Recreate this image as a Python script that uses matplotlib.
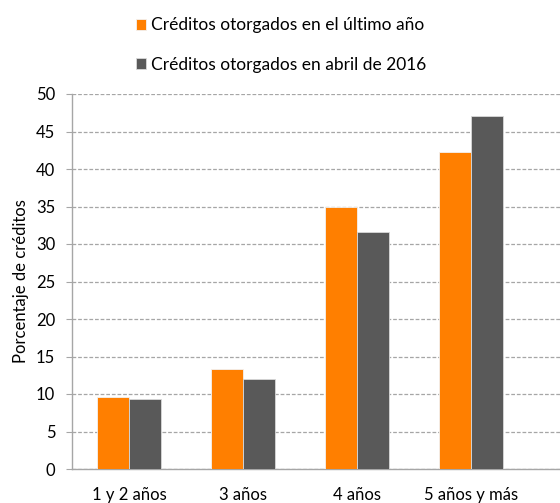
import numpy as np
import matplotlib.pyplot as plt

plt.rcParams['font.family'] = ['Lato', 'DejaVu Sans']

categories = ['1 y 2 años', '3 años', '4 años', '5 años y más']
ultimo_anio = [9.6, 13.3, 34.9, 42.3]
abril_2016 = [9.3, 12.0, 31.6, 47.1]
serie_labels = ['Créditos otorgados en el último año', 'Créditos otorgados en abril de 2016']

orange = '#FF7F00'
gray = '#595959'

fig = plt.figure(figsize=(5.6, 5.03), dpi=100)
ax = fig.add_axes([72/560, 1 - 469/503, 1 - 72/560, (469 - 94)/503])

x = np.arange(len(categories))
w = 0.28
b1 = ax.bar(x - w/2, ultimo_anio, w, color=orange, edgecolor='#f2f2f2', linewidth=0.6,
            label=serie_labels[0], zorder=3)
b2 = ax.bar(x + w/2, abril_2016, w, color=gray, edgecolor='#d9d9d9', linewidth=0.6,
            label=serie_labels[1], zorder=3)

ax.set_xlim(-0.5, 3.78)
ax.set_ylim(0, 50)
ax.set_yticks(np.arange(0, 51, 5))
ax.set_xticks(x)
ax.set_xticklabels(categories)
ax.yaxis.grid(True, linestyle=(0, (3, 1.5)), color='#a6a6a6', linewidth=0.9, zorder=0)
ax.set_axisbelow(True)

for s in ['top', 'right']:
    ax.spines[s].set_visible(False)
for s in ['left', 'bottom']:
    ax.spines[s].set_color('#a6a6a6')
    ax.spines[s].set_linewidth(1.0)

ax.tick_params(axis='y', length=4, color='#a6a6a6', labelsize=12, pad=8)
ax.tick_params(axis='x', length=0, labelsize=12, pad=13)
ax.set_ylabel('Porcentaje de créditos', fontsize=12, labelpad=5)

fig.legend(handles=[b1, b2], loc='upper center', bbox_to_anchor=(0.502, 1.0), ncol=1,
           frameon=False, fontsize=12.5, handlelength=0.6, handleheight=0.6,
           handletextpad=0.3, labelspacing=1.35, borderaxespad=0.6)

plt.savefig('out.png', dpi=100)
plt.close(fig)
